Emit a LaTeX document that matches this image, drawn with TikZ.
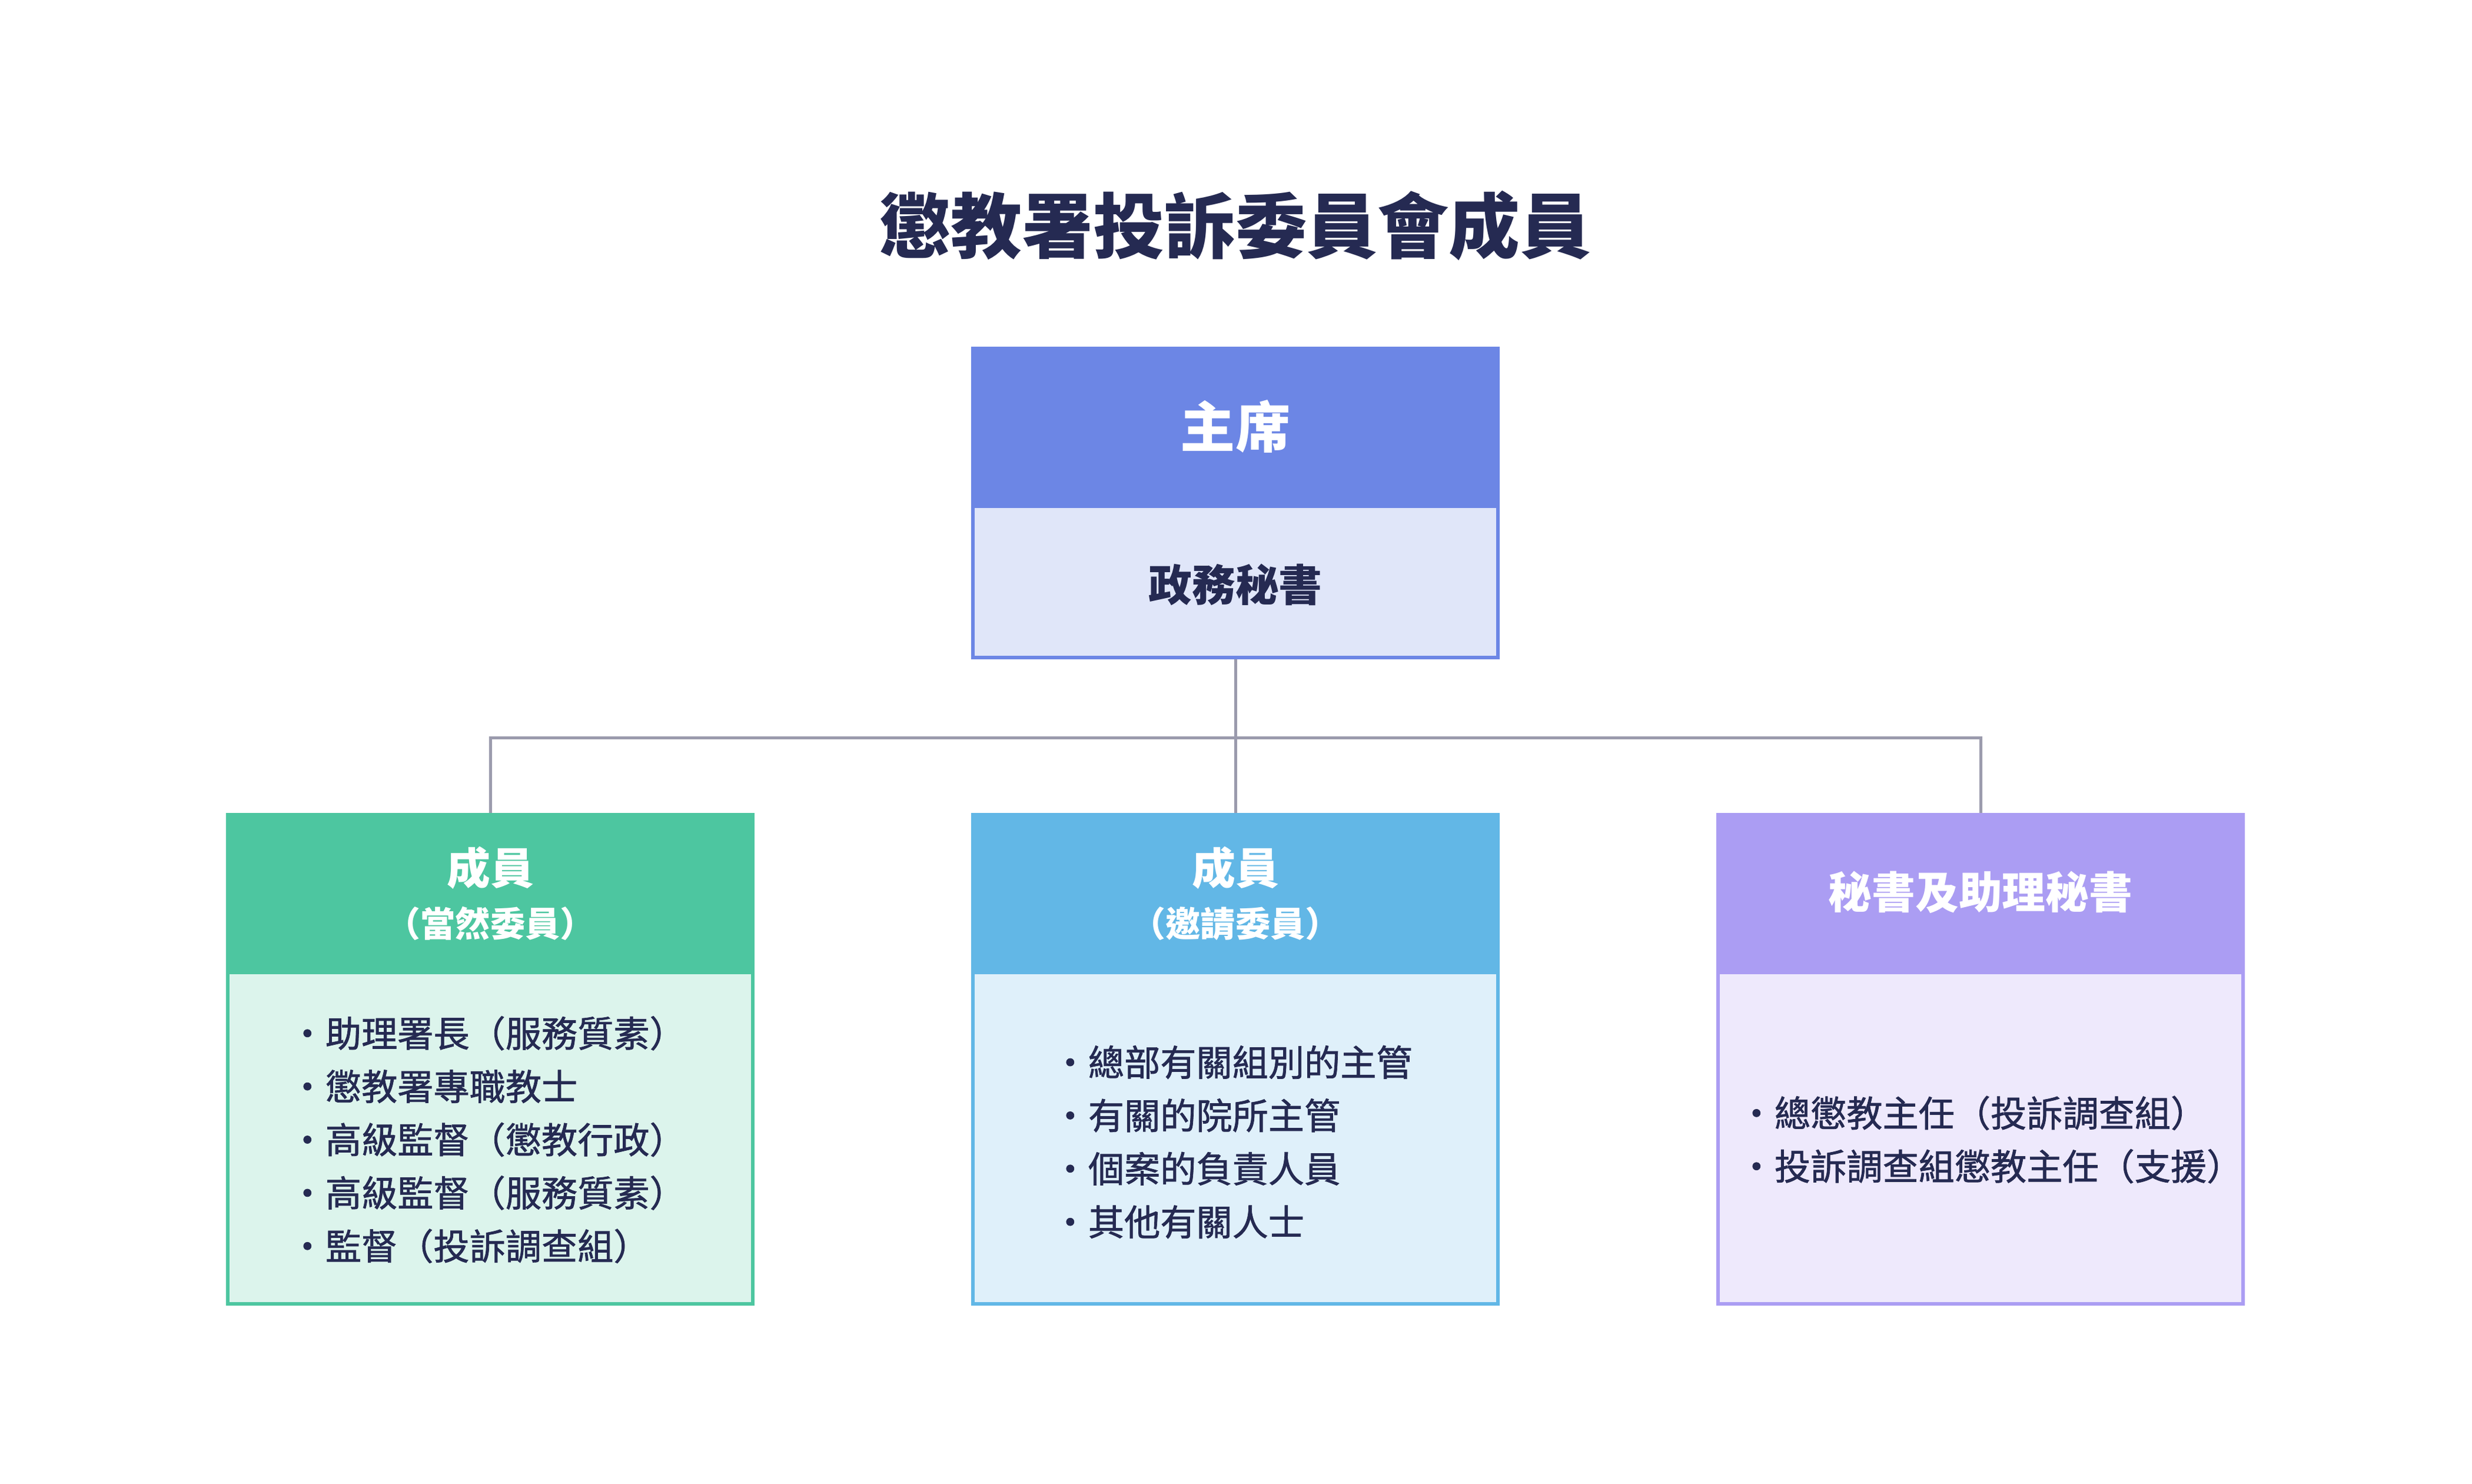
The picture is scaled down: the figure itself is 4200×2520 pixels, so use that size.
\documentclass[tikz,border=0pt]{standalone}
\usepackage{fontspec}
\setmainfont{Noto Sans CJK TC}
\newfontfamily\medfont[FakeBold=1.2]{Noto Sans CJK TC}
\usetikzlibrary{backgrounds}
\definecolor{ink}{HTML}{252A52}
\definecolor{connc}{HTML}{9B9BAD}
\definecolor{chairH}{HTML}{6C86E5}
\definecolor{chairB}{HTML}{E0E6F9}
\definecolor{grnH}{HTML}{4DC6A0}
\definecolor{grnB}{HTML}{DCF4EC}
\definecolor{bluH}{HTML}{62B7E6}
\definecolor{bluB}{HTML}{DFF0FA}
\definecolor{purH}{HTML}{AB9DF3}
\definecolor{purB}{HTML}{EEE9FC}
\begin{document}
\begin{tikzpicture}[x=0.01cm,y=-0.01cm,
  panel/.style 2 args={draw=#1, fill=#2, line width=0.06cm, inner sep=0pt, outer sep=0pt, minimum width=8.92cm},
  headbar/.style={fill=#1, draw=none, inner sep=0pt, outer sep=0pt, minimum width=8.98cm, minimum height=2.74cm},
  titletxt/.style={text=ink, font=\bfseries\fontsize{34.4}{40}\selectfont, inner sep=0pt},
  chairtxt/.style={text=white, font=\bfseries\fontsize{26.5}{32}\selectfont, inner sep=0pt},
  headtxt/.style={text=white, font=\bfseries\fontsize{21}{26}\selectfont, inner sep=0pt},
  subtxt/.style={text=white, font=\bfseries\fontsize{16.8}{20}\selectfont, inner sep=0pt},
  bodytxt/.style={text=ink, font=\bfseries\fontsize{21}{26}\selectfont, inner sep=0pt},
  listtxt/.style={text=ink, font=\medfont\fontsize{17.4}{25.7}\selectfont, inner sep=0pt, align=left, anchor=west},
  connector/.style={draw=connc, line width=0.05cm}
]
\useasboundingbox (0,0) rectangle (4200,2520);

% title
\node[titletxt] (title) at (2099,383) {懲教署投訴委員會成員};

% chair box
\node[panel={chairH}{chairB}, minimum height=5.25cm] (chair) at (2099,854.5) {};
\node[headbar=chairH] (chairhead) at (2099,726) {};
\node[chairtxt] (chairlbl) at (2099,724) {主席};
\node[bodytxt] (chairsub) at (2099,993) {政務秘書};

% member boxes
\node[panel={grnH}{grnB}, minimum height=8.31cm] (m1) at (833,1799.5) {};
\node[headbar=grnH] (m1head) at (833,1518) {};
\node[headtxt] (m1lbl) at (833,1474) {成員};
\node[subtxt] (m1sub) at (833,1569) {（當然委員）};
\node[listtxt] (m1list) at (491,1936) {·助理署長（服務質素）\\·懲教署專職教士\\·高級監督（懲教行政）\\·高級監督（服務質素）\\·監督（投訴調查組）};

\node[panel={bluH}{bluB}, minimum height=8.31cm] (m2) at (2099,1799.5) {};
\node[headbar=bluH] (m2head) at (2099,1518) {};
\node[headtxt] (m2lbl) at (2099,1474) {成員};
\node[subtxt] (m2sub) at (2099,1569) {（邀請委員）};
\node[listtxt] (m2list) at (1787,1940) {·總部有關組別的主管\\·有關的院所主管\\·個案的負責人員\\·其他有關人士};

\node[panel={purH}{purB}, minimum height=8.31cm] (m3) at (3365,1799.5) {};
\node[headbar=purH] (m3head) at (3365,1518) {};
\node[headtxt] (m3lbl) at (3365,1516) {秘書及助理秘書};
\node[listtxt] (m3list) at (2953,1936) {·總懲教主任（投訴調查組）\\·投訴調查組懲教主任（支援）};

% connectors
\coordinate (bus) at (2099,1253);
\begin{scope}[on background layer]
\fill[white] (0,0) rectangle (4200,2520);
\draw[connector] (chair.south) -- (bus);
\draw[connector] (m1.north) |- (bus) -| (m3.north);
\draw[connector] (bus) -- (m2.north);
\end{scope}
\end{tikzpicture}
\end{document}
